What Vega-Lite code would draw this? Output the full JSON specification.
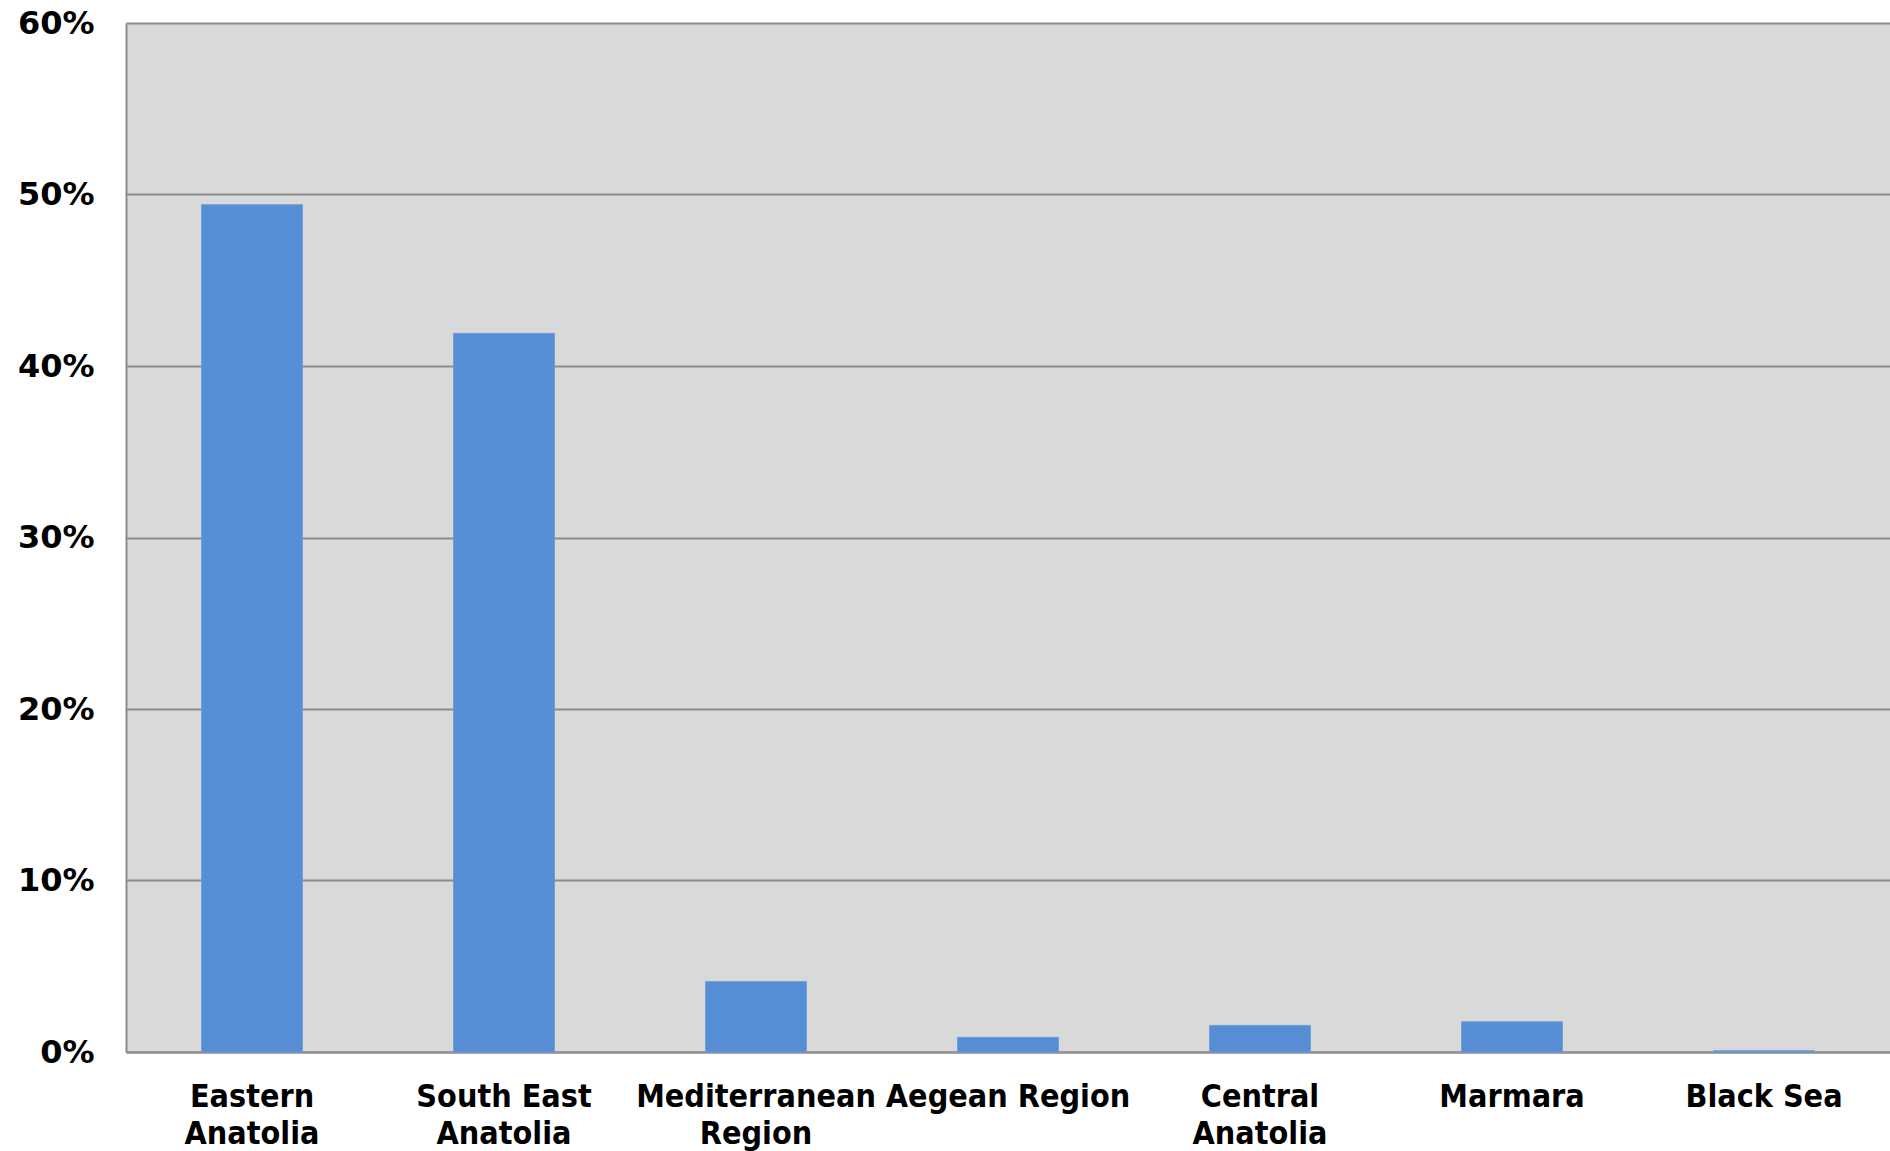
{
  "$schema": "https://vega.github.io/schema/vega-lite/v6.json",
  "width": 1764,
  "height": 1029,
  "autosize": {"type": "none"},
  "padding": {"left": 126, "top": 23, "right": 0, "bottom": 99},
  "background": "white",
  "config": {
    "view": {"fill": "#d9d9d9", "stroke": null},
    "font": "DejaVu Sans Condensed, DejaVu Sans"
  },
  "data": {
    "values": [
      {"region": "Eastern Anatolia", "share": 0.494},
      {"region": "South East Anatolia", "share": 0.419},
      {"region": "Mediterranean Region", "share": 0.041},
      {"region": "Aegean Region", "share": 0.0085},
      {"region": "Central Anatolia", "share": 0.0155},
      {"region": "Marmara", "share": 0.0176},
      {"region": "Black Sea", "share": 0.0007}
    ]
  },
  "mark": {"type": "bar", "color": "#558ed5", "stroke": "#6a9bd9", "strokeWidth": 1},
  "encoding": {
    "x": {
      "field": "region",
      "type": "nominal",
      "sort": null,
      "scale": {"paddingInner": 0.6, "paddingOuter": 0.3},
      "axis": {
        "title": null,
        "labelAngle": 0,
        "labelFontSize": 32,
        "labelFontWeight": "bold",
        "labelColor": "black",
        "labelPadding": 29,
        "labelLineHeight": 37,
        "labelBaseline": "top",
        "labelLimit": 0,
        "labelOverlap": false,
        "ticks": false,
        "domain": true,
        "domainColor": "#8c8c8c",
        "domainWidth": 2,
        "labelExpr": "datum.value == 'Eastern Anatolia' ? ['Eastern', 'Anatolia'] : datum.value == 'South East Anatolia' ? ['South East', 'Anatolia'] : datum.value == 'Mediterranean Region' ? ['Mediterranean', 'Region'] : datum.value == 'Central Anatolia' ? ['Central', 'Anatolia'] : datum.value"
      }
    },
    "y": {
      "field": "share",
      "type": "quantitative",
      "scale": {"domain": [0, 0.6], "nice": false},
      "axis": {
        "title": null,
        "format": ".0%",
        "values": [0, 0.1, 0.2, 0.3, 0.4, 0.5, 0.6],
        "labelFont": "DejaVu Sans",
        "labelFontSize": 32,
        "labelFontWeight": "bold",
        "labelColor": "black",
        "labelPadding": 32,
        "labelLimit": 0,
        "ticks": false,
        "domain": true,
        "domainColor": "#8c8c8c",
        "domainWidth": 2,
        "grid": true,
        "gridColor": "#8c8c8c",
        "gridWidth": 2
      }
    }
  }
}
